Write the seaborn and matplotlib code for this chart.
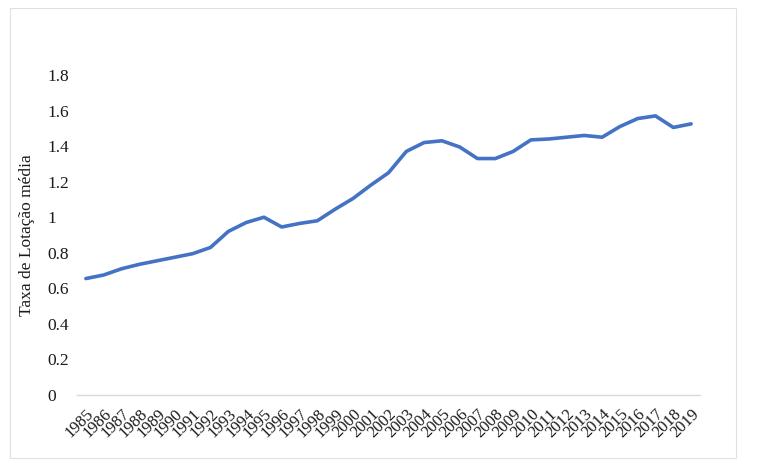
import pandas as pd
import matplotlib
matplotlib.use("Agg")
import matplotlib.pyplot as plt
import matplotlib.patches as patches
import seaborn as sns

# valores
anos = list(range(1985, 2020))
taxa = [0.655, 0.675, 0.71, 0.735, 0.755, 0.775, 0.795, 0.83, 0.92, 0.97,
        1.0, 0.945, 0.965, 0.98, 1.045, 1.105, 1.18, 1.25, 1.37, 1.42,
        1.43, 1.395, 1.33, 1.33, 1.37, 1.435, 1.44, 1.45, 1.46, 1.45,
        1.51, 1.555, 1.57, 1.505, 1.525]
yticks = [0, 0.2, 0.4, 0.6, 0.8, 1.0, 1.2, 1.4, 1.6, 1.8]
ytick_labels = ["0", "0.2", "0.4", "0.6", "0.8", "1", "1.2", "1.4", "1.6", "1.8"]

df = pd.DataFrame({"Ano": anos, "Taxa": taxa})

sns.set_style("white")
plt.rcParams["font.family"] = ["Liberation Serif", "DejaVu Serif"]

fig = plt.figure(figsize=(7.71, 4.66), dpi=100)
ax = fig.add_axes([77 / 771, 1 - 395 / 466, 623 / 771, 320 / 466])

sns.lineplot(data=df, x="Ano", y="Taxa", color="#4472C4", linewidth=2.6, ax=ax)

ax.set_xlim(1984.5, 2019.5)
ax.set_ylim(0, 1.8)
ax.set_xticks(anos)
ax.set_xticklabels([str(a) for a in anos], rotation=45, ha="right",
                   rotation_mode="anchor", fontsize=12, color="#1a1a1a")
ax.set_yticks(yticks)
ax.set_yticklabels(ytick_labels, fontsize=12.5, color="#1a1a1a")
for lbl in ax.get_yticklabels():
    lbl.set_horizontalalignment("left")
ax.tick_params(axis="y", length=0, pad=21.6)
ax.tick_params(axis="x", length=0, pad=8)

ax.set_xlabel("")
ax.set_ylabel("Taxa de Lotação média", fontsize=12.5, color="#1a1a1a")
ax.yaxis.set_label_coords(-0.067, 0.5)

for s in ["top", "right", "left"]:
    ax.spines[s].set_visible(False)
ax.spines["bottom"].set_color("#d9d9d9")
ax.spines["bottom"].set_linewidth(1.0)

# moldura cinza clara em volta do gráfico
fig.patches.append(patches.Rectangle((10 / 771, 1 - 458 / 466), 726 / 771, 450 / 466,
                                     transform=fig.transFigure, fill=False,
                                     edgecolor="#e0e0e0", linewidth=0.8))

fig.savefig("out.png", dpi=100)
